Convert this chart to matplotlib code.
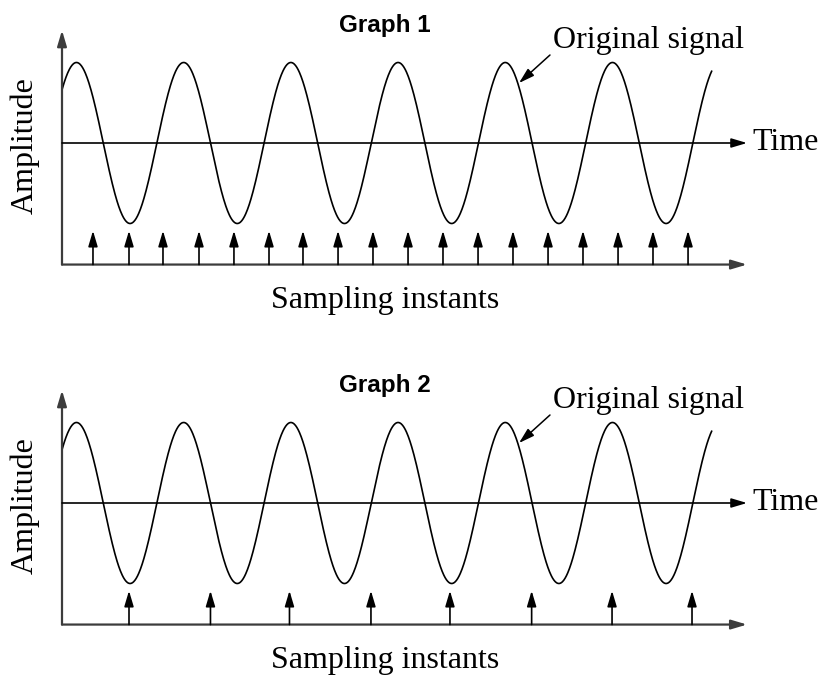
import matplotlib
matplotlib.use("Agg")
import matplotlib.pyplot as plt
import numpy as np

# signal: period = 1 time unit, peak reached at t = 0.135
SIGNAL_FREQ = 1.0
SIGNAL_PEAK_T = 0.135
SIGNAL_AMP = 1.0
SIGNAL_END = 6.06

# sampling instants (time units)
samples_1 = [0.289, 0.625, 0.942, 1.278, 1.604, 1.931, 2.248, 2.575, 2.901,
             3.228, 3.554, 3.881, 4.207, 4.534, 4.860, 5.187, 5.513, 5.840]
samples_2 = [0.625, 1.385, 2.122, 2.882, 3.619, 4.381, 5.131, 5.877]

titles = ["Graph 1", "Graph 2"]

SERIF = "Liberation Serif"
AXIS_GRAY = "#3c3c3c"
BASE_Y = -1.51
SAMPLE_TOP = -1.09
TIME_END = 6.39

head = dict(arrowstyle="-|>,head_length=0.47,head_width=0.14",
            mutation_scale=20, shrinkA=0, shrinkB=0)


def arrow(ax, start, end, color, lw):
    ax.annotate("", xy=end, xytext=start,
                arrowprops=dict(color=color, lw=lw, **head),
                annotation_clip=False)


def draw_panel(ax, title, samples):
    ax.set_xlim(-62 / 107.2, (824 - 62) / 107.2)
    ax.set_ylim((143 - 315) / 80.5, 143 / 80.5)
    ax.axis("off")

    # axes with arrows
    arrow(ax, (0, BASE_Y), (0, 1.40), AXIS_GRAY, 1.6)
    arrow(ax, (0, BASE_Y), (TIME_END, BASE_Y), AXIS_GRAY, 1.6)
    arrow(ax, (0, 0), (TIME_END, 0), "black", 1.2)

    # original signal
    t = np.linspace(0, SIGNAL_END, 1500)
    y = SIGNAL_AMP * np.cos(2 * np.pi * SIGNAL_FREQ * (t - SIGNAL_PEAK_T))
    ax.plot(t, y, color="black", lw=1.2, clip_on=False)

    # sampling instants
    for ts in samples:
        arrow(ax, (ts, BASE_Y), (ts, SAMPLE_TOP), "black", 1.2)

    ax.text(3.013, 1.379, title, ha="center", va="baseline",
            family="Liberation Sans", weight="bold", fontsize=17.5)
    ax.annotate("", xy=(4.263, 0.745), xytext=(4.552, 1.093),
                arrowprops=dict(color="black", lw=1.1, **head))
    ax.text(4.58, 1.18, "Original signal", ha="left", va="baseline",
            family=SERIF, fontsize=23)
    ax.text(6.437, 0.0, "Time", ha="left", va="center",
            family=SERIF, fontsize=23)
    ax.text(3.017, -2.05, "Sampling instants", ha="center", va="baseline",
            family=SERIF, fontsize=23)
    ax.text(-0.345, -0.037, "Amplitude", ha="center", va="center",
            rotation=90, family=SERIF, fontsize=23)


fig = plt.figure(figsize=(8.24, 6.75), dpi=100)
h = 315 / 675
ax1 = fig.add_axes([0, 1 - h, 1, h])
ax2 = fig.add_axes([0, 1 - h - 360 / 675, 1, h])
draw_panel(ax1, titles[0], samples_1)
draw_panel(ax2, titles[1], samples_2)

fig.savefig("out.png", dpi=100)
